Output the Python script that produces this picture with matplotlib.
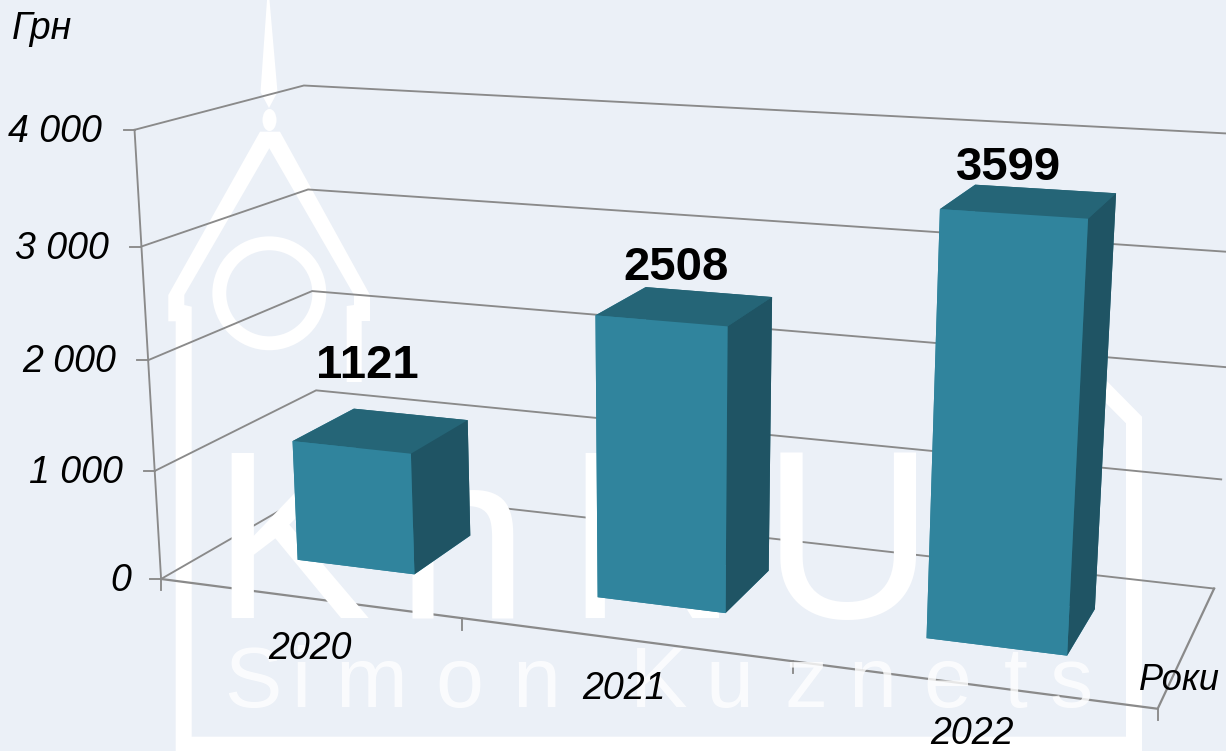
import numpy as np
import matplotlib
matplotlib.use("Agg")
import matplotlib.pyplot as plt
from matplotlib.patches import Circle, Polygon, Ellipse

years = ["2020", "2021", "2022"]
values = [1121, 2508, 3599]
z_ticks = [0, 1000, 2000, 3000, 4000]
z_labels = ["0", "1 000", "2 000", "3 000", "4 000"]

W, H = 1226, 751
BG = "#ebf0f7"
GRID = "#8a8a8a"
FRONT = "#30849d"
TOP = "#256577"
SIDE = "#1f5464"
LINE_W = 1.35

plt.rcParams["font.family"] = ["Liberation Sans", "DejaVu Sans"]

# frame point (category x, depth y, value z/1000) -> pixel
frame_pts = [
    (0, 0, 0, 161, 579), (0, 0, 1, 155, 470), (0, 0, 2, 147.7, 360),
    (0, 0, 3, 141.7, 246.7), (0, 0, 4, 134.5, 130),
    (0, 1, 0, 320, 488), (0, 1, 1, 316, 390.3), (0, 1, 2, 312.3, 291),
    (0, 1, 3, 308.3, 189.3), (0, 1, 4, 303.5, 85.7),
    (3, 1, 0, 1214.4, 588.3), (3, 1, 1, 1221, 479), (3, 1, 2, 1228, 367.3),
    (3, 1, 3, 1236, 252.6), (3, 1, 4, 1244, 134.3),
    (3, 0, 0, 1157.4, 709), (1, 0, 0, 462, 618.3), (2, 0, 0, 793, 661.7),
]


def fit_camera(pts):
    rows = []
    for x, y, z, u, v in pts:
        u, v = u / 1000, v / 1000
        rows.append([x, y, z, 1, 0, 0, 0, 0, -u * x, -u * y, -u * z, -u])
        rows.append([0, 0, 0, 0, x, y, z, 1, -v * x, -v * y, -v * z, -v])
    p = np.linalg.svd(np.array(rows, dtype=float))[2][-1].reshape(3, 4)
    p = p / p[2, 3]
    p[:2] *= 1000
    p[:, 2] /= 1000      # z column now takes real values
    return p


P = fit_camera(frame_pts)


def project(x, y, z):
    u, v, w = P @ [x, y, z, 1]
    return u / w, v / w


def frame_line(pts, lw=LINE_W):
    uv = [project(*p) for p in pts]
    bg.plot([p[0] for p in uv], [p[1] for p in uv], color=GRID, lw=lw, zorder=2,
            solid_joinstyle="miter")


fig = plt.figure(figsize=(W / 100, H / 100), dpi=100, facecolor=BG)

# ------------------------------------------------ watermark and frame, in pixels
bg = fig.add_axes([0, 0, 1, 1])
bg.set_xlim(0, W)
bg.set_ylim(H, 0)
bg.axis("off")

white = dict(facecolor="white", edgecolor="none")
bg.add_patch(Polygon([(267, 0), (269.5, 0), (277.5, 92), (269, 108), (260.5, 92)], **white))
bg.add_patch(Ellipse((269.5, 120), 14, 22, **white))
bg.add_patch(Polygon([
    (260, 131.7), (280, 131.7), (370, 295), (370, 321), (361.7, 321), (361.7, 382),
    (346.7, 382), (346.7, 306), (354, 305), (354, 295), (269.3, 148.3), (184.3, 295),
    (184.3, 305), (191.7, 306.7), (191.7, 736.7), (1126, 736.7), (1126, 423.3),
    (1085, 382), (1090, 364), (1142, 416.7), (1142, 751), (175.7, 751), (175.7, 321.3),
    (168.3, 321.3), (168.3, 295)], **white))
bg.add_patch(Circle((269.3, 293.3), 50, facecolor="none", edgecolor="white", linewidth=10))

for ch, x in zip("KhNU", (211, 396, 565, 762)):
    bg.text(x, 618, ch, fontsize=172, color="white", ha="left", va="baseline")
for ch, x in zip("SimonKuznets", (224, 291, 335, 435, 512, 630, 705, 785, 848, 923, 1004, 1050)):
    bg.text(x, 706.7, ch, fontsize=62, color="white", alpha=0.8, ha="left", va="baseline")

for zt in z_ticks:
    frame_line([(0, 0, zt), (0, 1, zt), (3, 1, zt)])
frame_line([(0, 0, 0), (0, 0, z_ticks[-1])])
frame_line([(0, 0, 0), (3, 0, 0), (3, 1, 0)], lw=LINE_W + 0.25)

# axis ticks, hung off the projected frame
for zt, lab, rx in zip(z_ticks, z_labels, (131, 123, 116, 109, 102)):
    u, v = project(0, 0, zt)
    bg.plot([u - 11, u], [v, v], color=GRID, lw=LINE_W)
    bg.text(rx, v + 2, lab, fontsize=27, style="italic", color="black",
            ha="right", va="center")
for xt in range(4):
    u, v = project(xt, 0, 0)
    bg.plot([u, u], [v, v + 11.5], color=GRID, lw=LINE_W)
for lab, (u, v) in zip(years, [(310, 649), (624, 689), (972, 734)]):
    bg.text(u, v, lab, fontsize=27, style="italic", color="black", ha="center", va="center")
bg.text(12, 29, "Грн", fontsize=27, style="italic", color="black", ha="left", va="center")
bg.text(1179, 681, "Роки", fontsize=26, style="italic", color="black", ha="center", va="center")

# ------------------------------------------------ columns on the fitted camera
ax = fig.add_axes([0, 0, 1, 1], projection="3d", computed_zorder=False)
ax.set_axis_off()
ax.set_facecolor("none")
# depth row: deep faces first, and within a column left before right, bottom before top
M = np.array([P[0], P[1], [-0.3, 1, -8e-5, 3], P[2]])
ax.get_proj = lambda: M
ax.apply_aspect = lambda position=None: None

n = len(values)
# face order in bar3d: bottom, top, front, back, left, right
face_colors = [FRONT, TOP, FRONT, TOP, FRONT, SIDE] * n
ax.bar3d(np.arange(n) + 0.3, [0.3] * n, [0] * n, 0.4, 0.4, values,
         color=face_colors, shade=False, zorder=3, edgecolor="none")

ax.viewLim.intervalx = (0, W)
ax.viewLim.intervaly = (H, 0)

for val, (u, v) in zip(values, [(367, 366), (676, 268), (1009, 168)]):
    ax.text2D(u, v, str(val), transform=ax.transData, fontsize=34, fontweight="bold",
              color="black", ha="center", va="center", zorder=5)

fig.savefig("out.png", dpi=100, facecolor=BG)
